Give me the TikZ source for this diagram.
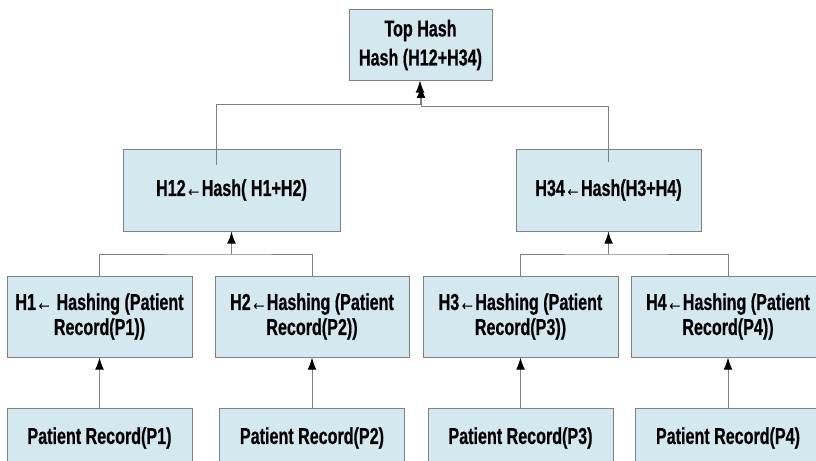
\documentclass[tikz,border=0pt]{standalone}
\usepackage{fontspec}
\setmainfont{Liberation Sans}[FakeStretch=0.7,BoldFeatures={FakeBold=0.6}]
\usetikzlibrary{calc,arrows.meta}
\definecolor{boxfill}{RGB}{212,233,239}
\definecolor{boxline}{RGB}{128,128,128}
\newcommand{\px}{0.75pt}
\tikzset{
  hashbox/.style={draw=boxline,fill=boxfill,line width=0.75pt,align=center,inner sep=0pt,
    font=\bfseries\fontsize{17.25}{18.75}\selectfont},
  link/.style={draw=boxline,line width=0.75pt},
  uparrow/.style={link,-{Latex[color=black,length=9pt,width=6.5pt]}}
}

\begin{document}
\begin{tikzpicture}[x=0.75pt,y=-0.75pt]
	\useasboundingbox (0,0) rectangle (816,460);
	\clip (0,0) rectangle (816,460);
	% root
	\node[hashbox,minimum width=143*\px,minimum height=70*\px] (top) at (420.5,45) {Top Hash\\[3pt]Hash (H12+H34)};
	% middle level
	\node[hashbox,minimum width=217*\px,minimum height=82*\px] (h12) at (231.5,190) {H12←Hash( H1+H2)};
	\node[hashbox,minimum width=185*\px,minimum height=82*\px] (h34) at (608.5,190) {H34←Hash(H3+H4)};
	% leaf hashes and the records under them
	\foreach \i/\x/\w/\t in {1/99.5/185/{H1← Hashing},2/312/194/{H2←Hashing},3/520.5/195/{H3←Hashing},4/728/194/{H4←Hashing}}{
		\node[hashbox,minimum width=\w*\px,minimum height=81*\px] (h\i) at (\x,316.5) {\t\ (Patient\\Record(P\i))};
		\node[hashbox,minimum width=185*\px,minimum height=60*\px] (p\i) at (\x,438) {Patient Record(P\i)};
		\draw[uparrow] (p\i) -- (h\i);
	}
	% pairs joined into the middle level
	\coordinate (j12) at (231.5,254);
	\coordinate (j34) at (608.5,254);
	\draw[link] (h1.north) |- (j12) -| (h2.north);
	\draw[link] (h3.north) |- (j34) -| (h4.north);
	\draw[uparrow] (j12) -- (h12.south);
	\draw[uparrow] (j34) -- (h34.south);
	% middle level up to the root
	\coordinate (tl) at (420,104);
	\coordinate (tr) at (421,106);
	\draw[uparrow] ($(h12.north)+(-15.5,16)$) |- (tl) -- (tl |- top.south);
	\draw[uparrow,shorten >=4pt] ($(h34.north)+(0,13)$) |- (tr) -- (tr |- top.south);
\end{tikzpicture}
\end{document}
